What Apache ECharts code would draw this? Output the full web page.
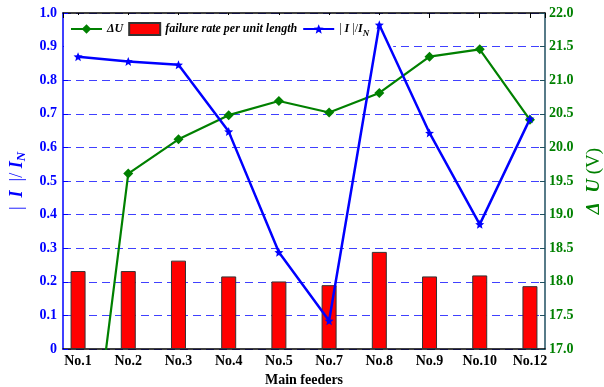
<!DOCTYPE html>
<html>
<head>
<meta charset="utf-8">
<script src="https://cdn.jsdelivr.net/npm/echarts@6/dist/echarts.min.js"></script>
<style>
  html, body { margin: 0; padding: 0; background: #fff; overflow: hidden; }
  #chart { width: 604px; height: 387px; }
</style>
</head>
<body>
<div id="chart"></div>
<script>
// Feeder names along the x axis
var feeders = ['No.1', 'No.2', 'No.3', 'No.4', 'No.5', 'No.7', 'No.8', 'No.9', 'No.10', 'No.12'];
// Failure rate per unit length (left axis)
var failureRate = [0.232, 0.232, 0.263, 0.216, 0.201, 0.190, 0.289, 0.216, 0.219, 0.187];
// Current ratio |I|/I_N (left axis)
var currentRatio = [0.870, 0.856, 0.846, 0.647, 0.288, 0.084, 0.965, 0.643, 0.371, 0.685];
// Voltage deviation ΔU in volts (right axis)
var deltaU = [13.7, 19.61, 20.12, 20.48, 20.69, 20.52, 20.81, 21.35, 21.46, 20.41];
// Range and step of the two y axes
var leftTicks = [0, 1.0, 0.1];
var rightTicks = [17.0, 22.0, 0.5];

var serif = '"Liberation Serif", "Times New Roman", serif';
var BLUE = '#0000ff';
var GREEN = '#008000';
var RED = '#ff0000';

function pairs(vals) {
  return vals.map(function (v, i) { return [i + 1, v]; });
}

var starPath = 'path://M0,-10 L2.6,-3.6 L9.5,-3.1 L4.2,1.4 L5.9,8.1 L0,4.4 L-5.9,8.1 L-4.2,1.4 L-9.5,-3.1 L-2.6,-3.6 Z';

var chart = echarts.init(document.getElementById('chart'), null, { renderer: 'canvas' });

var xBase = {
  type: 'value',
  min: 0.7,
  max: 10.3,
  minInterval: 1,
  maxInterval: 1,
  splitLine: { show: false },
  axisTick: { show: true, inside: true, length: 5, lineStyle: { color: '#000', width: 1 } },
  axisLine: { show: true, onZero: false, lineStyle: { color: '#000', width: 1.5 } }
};

chart.setOption({
  animation: false,
  backgroundColor: '#fff',
  grid: { left: 63, right: 59, top: 13, bottom: 38, containLabel: false, outerBoundsMode: 'none' },
  legend: {
    left: 64,
    top: 15,
    padding: [7, 24, 11, 6],
    backgroundColor: '#fff',
    itemWidth: 31,
    itemHeight: 12,
    itemGap: 5,
    data: [
      { name: 'dU' },
      { name: 'rate', icon: 'rect' },
      { name: 'ratio' }
    ],
    formatter: function (name) {
      if (name === 'dU') return '{b|\u0394}{i|U}';
      if (name === 'rate') return '{i|failure rate per unit length}';
      return '{n|| }{i|I}{n| |/}{i|I}{sub|N}';
    },
    textStyle: {
      fontFamily: serif,
      fontSize: 12,
      color: '#000',
      rich: {
        b: { fontFamily: serif, fontSize: 12, fontWeight: 'bold', fontStyle: 'italic', color: '#000' },
        i: { fontFamily: serif, fontSize: 12, fontWeight: 'bold', fontStyle: 'italic', color: '#000' },
        n: { fontFamily: serif, fontSize: 12, color: '#000' },
        sub: { fontFamily: serif, fontSize: 9, fontWeight: 'bold', fontStyle: 'italic', color: '#000', padding: [9, 0, 0, 0] }
      }
    }
  },
  xAxis: [
    Object.assign({}, xBase, {
      position: 'bottom',
      name: 'Main feeders',
      nameLocation: 'middle',
      nameGap: 22,
      nameTextStyle: { fontFamily: serif, fontSize: 14, fontWeight: 'bold', color: '#000' },
      axisLabel: {
        show: true,
        margin: 5,
        fontFamily: serif,
        fontSize: 14,
        fontWeight: 'bold',
        color: '#000',
        showMinLabel: false,
        showMaxLabel: false,
        formatter: function (v) {
          var k = Math.round(v);
          return Math.abs(v - k) < 1e-6 && k >= 1 && k <= feeders.length ? feeders[k - 1] : '';
        }
      }
    }),
    Object.assign({}, xBase, {
      position: 'top',
      axisLabel: { show: false }
    })
  ],
  yAxis: [
    {
      type: 'value',
      position: 'left',
      min: leftTicks[0],
      max: leftTicks[1],
      interval: leftTicks[2],
      name: '{n||  }{i|I}{n|  |/ }{i|I}{sub|N}',
      nameLocation: 'middle',
      nameRotate: 90,
      nameGap: 33,
      nameTextStyle: {
        color: BLUE,
        rich: {
          n: { fontFamily: serif, fontSize: 18, color: BLUE },
          i: { fontFamily: serif, fontSize: 18, fontWeight: 'bold', fontStyle: 'italic', color: BLUE },
          sub: { fontFamily: serif, fontSize: 13, fontWeight: 'bold', fontStyle: 'italic', color: BLUE, padding: [10, 0, 0, 0] }
        }
      },
      axisLine: { show: true, onZero: false, lineStyle: { color: BLUE, width: 1.5 } },
      axisTick: { show: true, inside: true, length: 5, lineStyle: { color: BLUE } },
      axisLabel: {
        margin: 6,
        fontFamily: serif,
        fontSize: 14,
        fontWeight: 'bold',
        color: BLUE,
        formatter: function (v) { return v === 0 ? '0' : v.toFixed(1); }
      },
      splitLine: {
        show: true,
        lineStyle: { color: 'rgba(0,0,255,0.75)', type: [8, 5], width: 1 }
      }
    },
    {
      type: 'value',
      position: 'right',
      min: rightTicks[0],
      max: rightTicks[1],
      interval: rightTicks[2],
      name: '{b|\u0394  }{i|U}{n| (V)}',
      nameLocation: 'middle',
      nameRotate: 90,
      nameGap: 38,
      nameTextStyle: {
        color: GREEN,
        rich: {
          b: { fontFamily: serif, fontSize: 19, fontWeight: 'bold', fontStyle: 'italic', color: GREEN },
          i: { fontFamily: serif, fontSize: 19, fontWeight: 'bold', fontStyle: 'italic', color: GREEN },
          n: { fontFamily: serif, fontSize: 19, color: GREEN }
        }
      },
      axisLine: { show: true, onZero: false, lineStyle: { color: '#1f4f60', width: 1.5 } },
      axisTick: { show: true, inside: true, length: 5, lineStyle: { color: '#1f4f60' } },
      axisLabel: {
        margin: 4,
        fontFamily: serif,
        fontSize: 14,
        fontWeight: 'bold',
        color: GREEN,
        formatter: function (v) { return v.toFixed(1); }
      },
      splitLine: { show: false }
    }
  ],
  series: [
    {
      name: 'rate',
      type: 'bar',
      xAxisIndex: 0,
      yAxisIndex: 0,
      barWidth: 15,
      data: pairs(failureRate),
      itemStyle: { color: RED, borderColor: '#333', borderWidth: 1 },
      z: 2
    },
    {
      name: 'ratio',
      type: 'line',
      xAxisIndex: 0,
      yAxisIndex: 0,
      data: pairs(currentRatio),
      symbol: starPath,
      symbolSize: 9,
      lineStyle: { color: BLUE, width: 2.5 },
      itemStyle: { color: BLUE },
      z: 4
    },
    {
      name: 'dU',
      type: 'line',
      xAxisIndex: 0,
      yAxisIndex: 1,
      data: pairs(deltaU),
      clip: true,
      symbol: 'diamond',
      symbolSize: 10,
      lineStyle: { color: GREEN, width: 2.2 },
      itemStyle: { color: GREEN },
      z: 3
    }
  ]
});
</script>
</body>
</html>
